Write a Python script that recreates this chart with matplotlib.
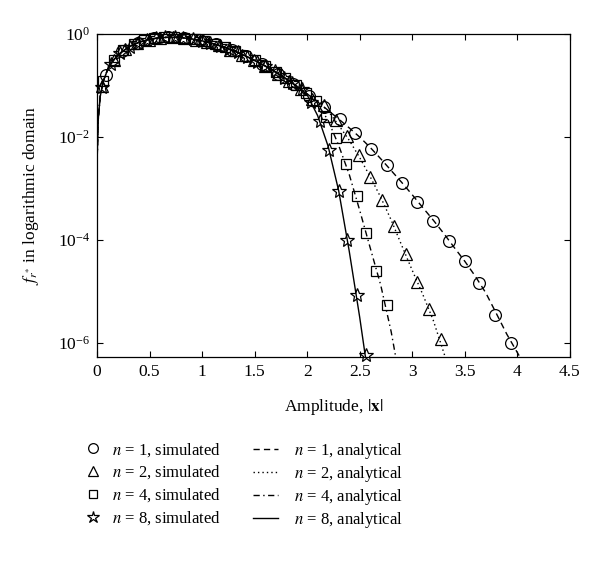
import numpy as np
import matplotlib
matplotlib.use("Agg")
import matplotlib.pyplot as plt
from matplotlib.lines import Line2D
from matplotlib.ticker import NullLocator

plt.rcParams["font.family"] = ["Liberation Serif", "DejaVu Serif"]
plt.rcParams["mathtext.fontset"] = "stix"
plt.rcParams["font.size"] = 10.5

# simulated points
x_n1 = [0.09, 0.24, 0.39, 0.54, 0.68, 0.83, 0.98, 1.13, 1.28, 1.42, 1.57, 1.72, 1.87,
        2.02, 2.16, 2.31, 2.46, 2.61, 2.76, 2.90, 3.05, 3.20, 3.35, 3.50, 3.64, 3.79, 3.94]
f_n1 = [0.16, 0.46, 0.68, 0.82, 0.87, 0.84, 0.75, 0.63, 0.49, 0.37, 0.26, 0.17, 0.108,
        0.064, 0.038, 0.022, 0.0121, 0.0059, 0.0029, 1.3e-3, 5.5e-4, 2.4e-4, 9.7e-5,
        3.9e-5, 1.45e-5, 3.6e-6, 9.9e-7]

x_n2 = [0.05, 0.16, 0.27, 0.38, 0.49, 0.60, 0.72, 0.83, 0.94, 1.05, 1.16, 1.27, 1.38, 1.49,
        1.60, 1.72, 1.83, 1.94, 2.05, 2.16, 2.27, 2.38, 2.49, 2.60, 2.71, 2.83, 2.94, 3.05,
        3.16, 3.27]
f_n2 = [0.10, 0.32, 0.51, 0.67, 0.78, 0.85, 0.87, 0.84, 0.78, 0.70, 0.60, 0.50, 0.40, 0.32,
        0.24, 0.17, 0.122, 0.085, 0.056, 0.041, 0.0214, 0.0105, 0.0044, 0.0017, 6.0e-4,
        1.9e-4, 5.4e-5, 1.55e-5, 4.6e-6, 1.2e-6]

x_n4 = [0.06, 0.16, 0.25, 0.35, 0.45, 0.54, 0.64, 0.73, 0.83, 0.93, 1.02, 1.12, 1.22, 1.31,
        1.41, 1.50, 1.60, 1.70, 1.79, 1.89, 1.99, 2.08, 2.18, 2.27, 2.37, 2.47, 2.56, 2.66,
        2.76]
f_n4 = [0.12, 0.32, 0.48, 0.63, 0.75, 0.82, 0.86, 0.87, 0.84, 0.79, 0.72, 0.64, 0.55, 0.46,
        0.38, 0.31, 0.24, 0.18, 0.139, 0.101, 0.071, 0.050, 0.025, 0.0098, 0.0030, 7.1e-4,
        1.4e-4, 2.5e-5, 5.6e-6]

x_n8 = [0.05, 0.13, 0.22, 0.31, 0.39, 0.48, 0.56, 0.65, 0.74, 0.82, 0.91, 1.00, 1.08, 1.17,
        1.26, 1.34, 1.43, 1.52, 1.60, 1.69, 1.78, 1.86, 1.95, 2.04, 2.12, 2.21, 2.30, 2.38,
        2.47, 2.56]
f_n8 = [0.095, 0.26, 0.43, 0.57, 0.68, 0.78, 0.83, 0.86, 0.86, 0.84, 0.80, 0.74, 0.67, 0.59,
        0.51, 0.44, 0.36, 0.29, 0.24, 0.19, 0.143, 0.111, 0.084, 0.049, 0.0204, 0.0056,
        8.9e-4, 1.02e-4, 8.5e-6, 5.9e-7]

# analytical curves
xa_body = [0.0, 0.002, 0.01, 0.03, 0.06, 0.1, 0.15, 0.2, 0.3, 0.4, 0.5, 0.6, 0.7, 0.8, 0.9,
           1.0, 1.1, 1.2, 1.3, 1.4, 1.5, 1.6, 1.7, 1.8]
fa_body = [4e-7, 0.0041, 0.020, 0.061, 0.122, 0.202, 0.299, 0.392, 0.559, 0.693, 0.791,
           0.848, 0.867, 0.850, 0.804, 0.736, 0.653, 0.564, 0.473, 0.387, 0.308, 0.240,
           0.182, 0.135]

xa_n1 = [1.9, 2.0, 2.1, 2.2, 2.3, 2.4, 2.5, 2.6, 2.7, 2.8, 2.9, 3.0, 3.1, 3.2, 3.3, 3.4,
         3.5, 3.6, 3.7, 3.8, 3.9, 4.0, 4.1]
fa_n1 = [0.0975, 0.069, 0.048, 0.033, 0.0224, 0.0151, 0.0100, 0.0063, 0.0038, 0.00224,
         0.00132, 7.6e-4, 4.3e-4, 2.45e-4, 1.35e-4, 7.2e-5, 3.9e-5, 2.0e-5, 9.5e-6,
         3.8e-6, 1.5e-6, 6.6e-7, 3.0e-7]

xa_n2 = [1.9, 2.0, 2.1, 2.2, 2.3, 2.4, 2.5, 2.6, 2.7, 2.8, 2.9, 3.0, 3.1, 3.2, 3.3, 3.35]
fa_n2 = [0.0975, 0.069, 0.049, 0.032, 0.017, 0.0087, 0.0040, 0.0017, 6.8e-4, 2.45e-4,
         7.9e-5, 2.6e-5, 8.9e-6, 2.8e-6, 6.6e-7, 3.2e-7]

xa_n4 = [1.9, 2.0, 2.1, 2.2, 2.3, 2.4, 2.5, 2.6, 2.7, 2.8, 2.85]
fa_n4 = [0.0975, 0.068, 0.044, 0.021, 0.0069, 0.0019, 3.8e-4, 7.1e-5, 1.35e-5, 1.66e-6,
         4.5e-7]

xa_n8 = [1.9, 2.0, 2.1, 2.2, 2.3, 2.4, 2.5, 2.55, 2.6]
fa_n8 = [0.0975, 0.066, 0.026, 0.0066, 9.1e-4, 6.2e-5, 3.2e-6, 6.3e-7, 1.3e-7]

fig = plt.figure(figsize=(6.0, 5.61), dpi=100)
ax = fig.add_axes([0.1617, 0.3636, 0.788, 0.5758])

lw = 1.0
dash_n1 = (4.5, 3)
dash_n2 = (1, 2.2)
dash_n4 = (4.5, 2.5, 1, 2.5)
ax.plot(xa_body + xa_n1, fa_body + fa_n1, color="k", lw=lw, dashes=dash_n1)
ax.plot(xa_body + xa_n2, fa_body + fa_n2, color="k", lw=lw, dashes=dash_n2)
ax.plot(xa_body + xa_n4, fa_body + fa_n4, color="k", lw=lw, dashes=dash_n4)
ax.plot(xa_body + xa_n8, fa_body + fa_n8, color="k", lw=lw)

mk = dict(linestyle="none", markerfacecolor="none", markeredgecolor="k",
          markeredgewidth=0.9)
ax.plot(x_n1, f_n1, marker="o", markersize=8.5, clip_on=False, **mk)
ax.plot(x_n2, f_n2, marker="^", markersize=9, clip_on=False, **mk)
ax.plot(x_n4, f_n4, marker="s", markersize=6.5, clip_on=False, **mk)
ax.plot(x_n8, f_n8, marker="*", markersize=10.5, clip_on=False, **mk)

ax.set_yscale("log")
ax.set_xlim(0, 4.5)
ax.set_ylim(5.4e-7, 1.0)
ax.set_yticks([1e0, 1e-2, 1e-4, 1e-6])
ax.yaxis.set_minor_locator(NullLocator())
ax.set_xticks([0, 0.5, 1, 1.5, 2, 2.5, 3, 3.5, 4, 4.5])
ax.set_xticklabels(["0", "0.5", "1", "1.5", "2", "2.5", "3", "3.5", "4", "4.5"])
ax.tick_params(direction="in", top=True, right=True, length=4, width=0.8,
               labelsize=12.5, pad=5)
for s in ax.spines.values():
    s.set_linewidth(0.9)

ax.set_xlabel(r"Amplitude, $|\mathbf{x}|$", fontsize=12.5, labelpad=12)
ax.set_ylabel(r"$f_{r^{*}}$ in logarithmic domain", fontsize=12.5, labelpad=12)

sim_handles = [
    Line2D([], [], marker="o", markersize=7, **mk),
    Line2D([], [], marker="^", markersize=7.5, **mk),
    Line2D([], [], marker="s", markersize=5.5, **mk),
    Line2D([], [], marker="*", markersize=9, **mk),
]
sim_labels = [r"$n$ = 1, simulated", r"$n$ = 2, simulated", r"$n$ = 4, simulated",
              r"$n$ = 8, simulated"]
ana_handles = [
    Line2D([], [], color="k", lw=lw, dashes=dash_n1),
    Line2D([], [], color="k", lw=lw, dashes=dash_n2),
    Line2D([], [], color="k", lw=lw, dashes=dash_n4),
    Line2D([], [], color="k", lw=lw),
]
ana_labels = [r"$n$ = 1, analytical", r"$n$ = 2, analytical", r"$n$ = 4, analytical",
              r"$n$ = 8, analytical"]

leg1 = fig.legend(sim_handles, sim_labels, loc="upper left", bbox_to_anchor=(0.14, 0.214),
                  frameon=False, fontsize=12, handlelength=1.1, handletextpad=0.55,
                  labelspacing=0.3, borderpad=0, borderaxespad=0)
leg2 = fig.legend(ana_handles, ana_labels, loc="upper left", bbox_to_anchor=(0.422, 0.214),
                  frameon=False, fontsize=12, handlelength=1.5, handletextpad=0.95,
                  labelspacing=0.18, borderpad=0, borderaxespad=0)

fig.savefig("out.png", dpi=100)
